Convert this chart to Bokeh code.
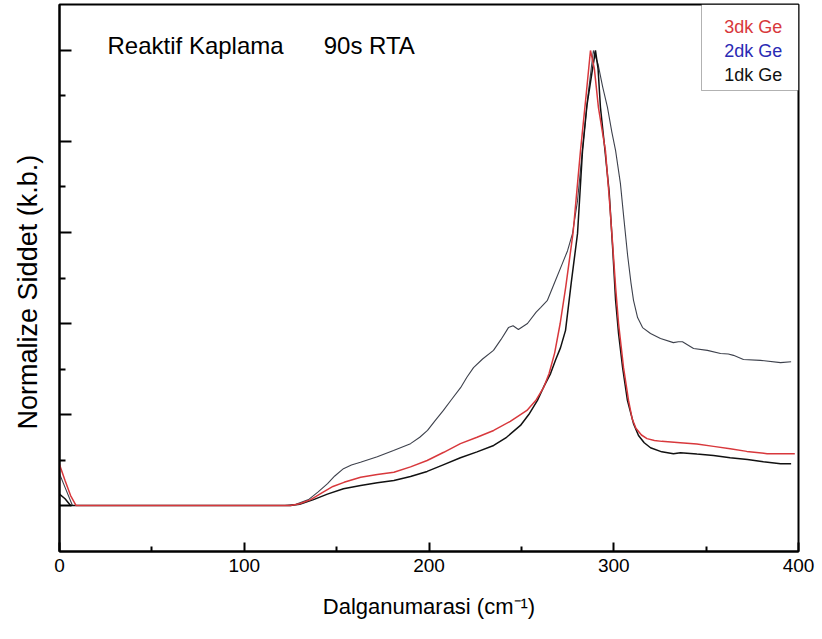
import math
from bokeh.plotting import figure
from bokeh.layouts import row
from bokeh.models import FixedTicker, Label, BoxAnnotation, Range1d
from bokeh.core.properties import value
from bokeh.embed import file_html
from bokeh.resources import INLINE

# ---- data ----
x_3dk = [0, 3, 6, 9, 20, 60, 100, 125, 130, 136, 142, 148, 154, 163, 172, 181, 190, 199, 208, 217,
         226, 235, 244, 253, 258, 262, 265, 268, 271, 274, 278, 282, 285, 287.4, 289.5, 291.7, 293.5,
         295.5, 297.5, 299.3, 301, 302.6, 304, 305.3, 308, 310, 312, 315, 318, 322, 326, 336, 345,
         354, 363, 372, 383, 391, 398]
y_3dk = [0.090, 0.055, 0.022, 0.0, 0.0, 0.0, 0.0, 0.0, 0.004, 0.013, 0.028, 0.042, 0.051, 0.062,
         0.068, 0.073, 0.085, 0.099, 0.117, 0.136, 0.150, 0.165, 0.185, 0.209, 0.232, 0.259, 0.290,
         0.335, 0.400, 0.480, 0.600, 0.780, 0.900, 1.000, 0.960, 0.875, 0.830, 0.780, 0.680, 0.580,
         0.480, 0.400, 0.350, 0.303, 0.231, 0.190, 0.170, 0.155, 0.147, 0.143, 0.141, 0.138, 0.135,
         0.130, 0.125, 0.119, 0.114, 0.114, 0.114]

x_2dk = [0, 3, 7, 20, 60, 100, 122, 128, 134.8, 140, 145.1, 149, 153.7, 158, 162.9, 172, 180.8, 190,
         195, 199.2, 203, 207.8, 212, 217.1, 220.5, 224.1, 229, 234.9, 239, 243, 245.5, 248.4, 253.3,
         258, 260.4, 264.1, 268, 272, 275, 277.7, 280.4, 283, 286, 289, 291.5, 294, 296.6, 299, 301,
         303.6, 305.5, 307.5, 309.3, 310.7, 312.9, 315.6, 319.9, 325.3, 332.3, 335, 337.2, 343.2,
         350.7, 357.8, 362, 364.8, 370.2, 379.4, 390.3, 396]
y_2dk = [0.070, 0.040, 0.0, 0.0, 0.0, 0.0, 0.0, 0.003, 0.013, 0.030, 0.048, 0.065, 0.081, 0.089,
         0.095, 0.107, 0.121, 0.136, 0.150, 0.165, 0.185, 0.209, 0.232, 0.259, 0.282, 0.303, 0.322,
         0.341, 0.365, 0.391, 0.395, 0.387, 0.400, 0.425, 0.435, 0.451, 0.490, 0.530, 0.560, 0.598,
         0.670, 0.780, 0.900, 1.000, 0.970, 0.920, 0.875, 0.820, 0.780, 0.708, 0.630, 0.550, 0.490,
         0.451, 0.413, 0.391, 0.378, 0.367, 0.358, 0.360, 0.360, 0.345, 0.341, 0.334, 0.333, 0.330,
         0.321, 0.319, 0.314, 0.316]

x_1dk = [0, 3, 6, 20, 60, 100, 125, 130, 137.5, 145, 153.7, 163, 172, 181, 190, 199, 208, 217, 226,
         235, 242, 249.5, 254, 258.7, 262, 265.8, 268.5, 271.2, 273.9, 277, 280.4, 283.1, 285.5,
         287.4, 290.1, 291.5, 292.8, 295, 297.5, 299.5, 301, 302.6, 304.8, 307.4, 310.7, 313.4, 316.5,
         319.9, 326, 332.3, 336.1, 345, 354, 363, 372.4, 381, 390.3, 396]
y_1dk = [0.025, 0.015, 0.0, 0.0, 0.0, 0.0, 0.0, 0.003, 0.013, 0.025, 0.037, 0.044, 0.050, 0.055,
         0.064, 0.075, 0.090, 0.105, 0.118, 0.132, 0.150, 0.176, 0.200, 0.231, 0.260, 0.290, 0.320,
         0.347, 0.385, 0.490, 0.598, 0.780, 0.880, 0.930, 1.000, 0.960, 0.875, 0.790, 0.690, 0.560,
         0.451, 0.378, 0.303, 0.231, 0.180, 0.154, 0.138, 0.127, 0.118, 0.114, 0.116, 0.113, 0.110,
         0.105, 0.101, 0.096, 0.092, 0.092]

series_names = ["3dk Ge", "2dk Ge", "1dk Ge"]
series_colors = ["#d8383c", "#2a2ab4", "#111111"]
line_colors = ["#d8383c", "#3d414c", "#111111"]

x_ticks = [0, 100, 200, 300, 400]
x_minor = [50, 150, 250, 350]
y_ticks = [0.0, 0.2, 0.4, 0.6, 0.8, 1.0]
y_minor = [0.1, 0.3, 0.5, 0.7, 0.9]

FONT = "Liberation Sans"

# narrow panel carrying the vertical axis title
pl = figure(width=47, height=639, output_backend="svg", toolbar_location=None,
            x_range=Range1d(0, 47), y_range=Range1d(0, 639), min_border=0)
pl.axis.visible = False
pl.grid.visible = False
pl.outline_line_color = None
pl.text(x=[27], y=[303], text=["Normalize Siddet (k.b.)"], angle=math.pi / 2,
        text_font=value(FONT), text_font_size="27px", text_align="center",
        text_baseline="middle", text_color="black")

p = figure(width=775, height=639, output_backend="svg", toolbar_location=None,
           x_range=Range1d(0, 400), y_range=Range1d(-0.101, 1.101),
           min_border_left=12, min_border_right=24, min_border_top=4, min_border_bottom=88)
p.grid.visible = False
p.outline_line_color = "black"
p.outline_line_width = 2
p.background_fill_color = "white"
p.border_fill_color = "white"

p.line(x_2dk, y_2dk, line_color=line_colors[1], line_width=1.1)
p.line(x_1dk, y_1dk, line_color=line_colors[2], line_width=1.5)
p.line(x_3dk, y_3dk, line_color=line_colors[0], line_width=1.5)

# x axis
xa = p.xaxis[0]
xa.ticker = FixedTicker(ticks=x_ticks, minor_ticks=x_minor)
xa.axis_line_width = 2
xa.major_tick_in = 9
xa.major_tick_out = 0
xa.minor_tick_in = 5
xa.minor_tick_out = 0
xa.major_tick_line_width = 2
xa.minor_tick_line_width = 2
xa.major_label_text_font = FONT
xa.major_label_text_font_size = "19px"
xa.major_label_text_color = "black"
xa.major_label_standoff = 7
xa.axis_label = "Dalganumarasi (cm⁻¹)"
xa.axis_label_text_font = FONT
xa.axis_label_text_font_size = "22px"
xa.axis_label_text_font_style = "normal"
xa.axis_label_text_color = "black"
xa.axis_label_standoff = 19

# y axis (ticks only)
ya = p.yaxis[0]
ya.ticker = FixedTicker(ticks=y_ticks, minor_ticks=y_minor)
ya.axis_line_width = 2
ya.major_tick_in = 12
ya.major_tick_out = 0
ya.minor_tick_in = 6
ya.minor_tick_out = 0
ya.major_tick_line_width = 2
ya.minor_tick_line_width = 2
ya.major_label_text_font_size = "0px"
ya.major_label_text_color = None
ya.major_label_standoff = 0

# annotation text
p.add_layout(Label(x=26, y=1.011, text="Reaktif Kaplama", text_font=FONT, text_font_size="24px",
                   text_baseline="middle", text_color="black"))
p.add_layout(Label(x=143, y=1.011, text="90s RTA", text_font=FONT, text_font_size="24px",
                   text_baseline="middle", text_color="black"))

# legend box with coloured texts
p.add_layout(BoxAnnotation(left=347.5, right=400, bottom=0.912, top=1.101,
                           fill_color="white", fill_alpha=1.0, line_color="black", line_width=1))
legend_y = [1.0505, 0.998, 0.945]
for name, col, ly in zip(series_names, series_colors, legend_y):
    p.add_layout(Label(x=375.5, y=ly, text=name, text_font=FONT, text_font_size="18px",
                       text_align="center", text_baseline="middle", text_color=col))

layout = row(pl, p)
open("out.html", "w").write(file_html(layout, INLINE))
